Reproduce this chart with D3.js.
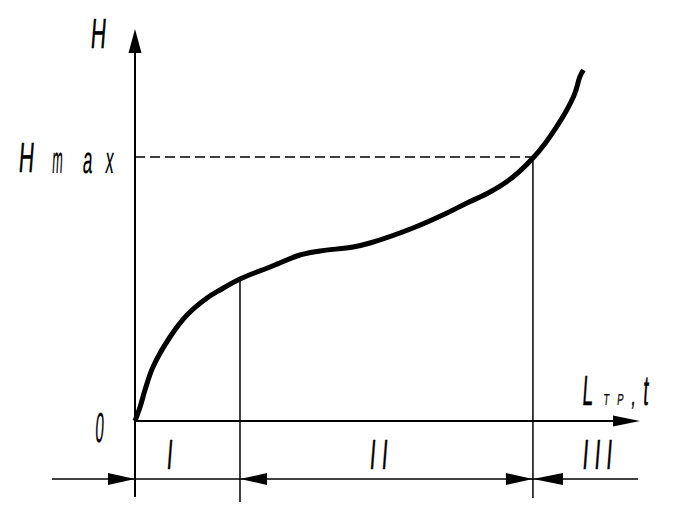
<!DOCTYPE html>
<html><head><meta charset="utf-8">
<script src="https://cdn.jsdelivr.net/npm/d3@7"></script>
<style>html,body{margin:0;padding:0;background:#fff;}svg{display:block;}</style>
</head><body>
<script>
// ---- data ----
const curveL = [0, 1.0, 1.98, 3.56, 6.93, 10.3, 14.26, 16.83, 20.79, 26.73, 32.67, 36.63, 43.17, 46.53, 55.05, 61.78, 65.74, 70.3, 74.85, 78.8, 81.2, 83.5, 85.5, 87.1, 88.1, 88.8];
const curveH = [0, 3.5, 7.75, 13.5, 21, 26.5, 30.75, 32.75, 35.5, 38.5, 41.5, 42.5, 43.5, 44.5, 48.25, 52, 54.5, 57.25, 61, 65.75, 69.4, 73.6, 77.75, 81.9, 86.1, 87.75];
const zoneBounds = [20.79, 78.8];
const zoneLabels = ["I", "II", "III"];
const zoneLabelPos = [7.3, 48.7, 92];
const Hmax = [66];
const axisMax = { L: 100, H: 98 };

const W = 674, H = 517;
const svg = d3.select("body").append("svg").attr("width", W).attr("height", H);
const x = d3.scaleLinear().domain([0, 100]).range([135, 640]);
const y = d3.scaleLinear().domain([0, 100]).range([421, 21]);
const dimY = 479;

function txt(str, cx, by, size, sx, anchor, ls, sw) {
  svg.append("text")
    .attr("transform", `translate(${cx},${by}) scale(${sx},1) skewX(-9)`)
    .attr("font-size", size)
    .attr("font-family", "Liberation Sans, Arial, sans-serif")
    .attr("text-anchor", anchor || "middle")
    .attr("letter-spacing", ls || 0)
    .attr("fill", "#000")
    .attr("stroke", "#000").attr("stroke-width", sw == null ? 0.5 : sw)
    .text(str);
}
function tri(pts) {
  svg.append("path").attr("d", "M" + pts.map(p => p.join(",")).join("L") + "Z").attr("fill", "#000");
}

// axes
svg.append("line").attr("x1", x(0)).attr("x2", x(0)).attr("y1", 497).attr("y2", y(axisMax.H) + 20)
  .attr("stroke", "#000").attr("stroke-width", 2);
tri([[x(0), y(axisMax.H)], [x(0) - 6.5, y(axisMax.H) + 24], [x(0) + 6.5, y(axisMax.H) + 24]]);
svg.append("line").attr("x1", x(0)).attr("x2", x(axisMax.L) - 20).attr("y1", y(0)).attr("y2", y(0))
  .attr("stroke", "#000").attr("stroke-width", 2);
tri([[x(axisMax.L), y(0)], [x(axisMax.L) - 27, y(0) - 5.5], [x(axisMax.L) - 27, y(0) + 5.5]]);

// Hmax dashed
svg.append("line").attr("x1", x(0)).attr("x2", x(zoneBounds[1])).attr("y1", y(Hmax[0])).attr("y2", y(Hmax[0]))
  .attr("stroke", "#000").attr("stroke-width", 1.5).attr("stroke-dasharray", "10,5");

// zone boundary verticals
svg.append("line").attr("x1", x(zoneBounds[0])).attr("x2", x(zoneBounds[0]))
  .attr("y1", y(curveH[curveL.indexOf(zoneBounds[0])])).attr("y2", 502)
  .attr("stroke", "#000").attr("stroke-width", 1.5);
svg.append("line").attr("x1", x(zoneBounds[1])).attr("x2", x(zoneBounds[1]))
  .attr("y1", y(Hmax[0])).attr("y2", 498)
  .attr("stroke", "#000").attr("stroke-width", 1.5);

// dimension line
svg.append("line").attr("x1", 52).attr("x2", 638).attr("y1", dimY).attr("y2", dimY)
  .attr("stroke", "#000").attr("stroke-width", 1.5);
const x0 = x(0), x1 = x(zoneBounds[0]), x2 = x(zoneBounds[1]);
tri([[x0, dimY], [x0 - 27, dimY - 6], [x0 - 27, dimY + 6]]);
tri([[x1, dimY], [x1 + 27, dimY - 6], [x1 + 27, dimY + 6]]);
tri([[x2, dimY], [x2 - 27, dimY - 6], [x2 - 27, dimY + 6]]);
tri([[x2, dimY], [x2 + 30, dimY - 6], [x2 + 30, dimY + 6]]);

// curve
const line = d3.line().x((d, i) => x(curveL[i])).y((d, i) => y(curveH[i])).curve(d3.curveCatmullRom);
svg.append("path").datum(curveL).attr("d", line).attr("fill", "none")
  .attr("stroke", "#000").attr("stroke-width", 5).attr("stroke-linecap", "butt");

// labels
txt("H", 97.5, 48, 42, 0.5);
txt("H", 25.5, 172, 42, 0.5);
txt("m", 57, 173, 38, 0.33, "middle", 0, 0.2);
txt("a", 87, 173, 38, 0.45, "middle", 0, 0.2);
txt("x", 109, 173, 38, 0.42, "middle", 0, 0.2);
txt("0", 99, 442, 42, 0.36, "middle", 0, 0.3);
txt("L", 587, 405, 42, 0.45);
txt("T", 606, 405, 16, 0.6, "middle", 0, 0.2);
txt("P", 620, 405, 16, 0.6, "middle", 0, 0.2);
txt(",", 633, 405, 28, 0.55);
txt("t", 645, 405, 42, 0.45);
zoneLabels.forEach((s, i) => {
  txt(s, x(zoneLabelPos[i]), 469, 42, 0.5, "middle", 12);
});
</script>
</body></html>
